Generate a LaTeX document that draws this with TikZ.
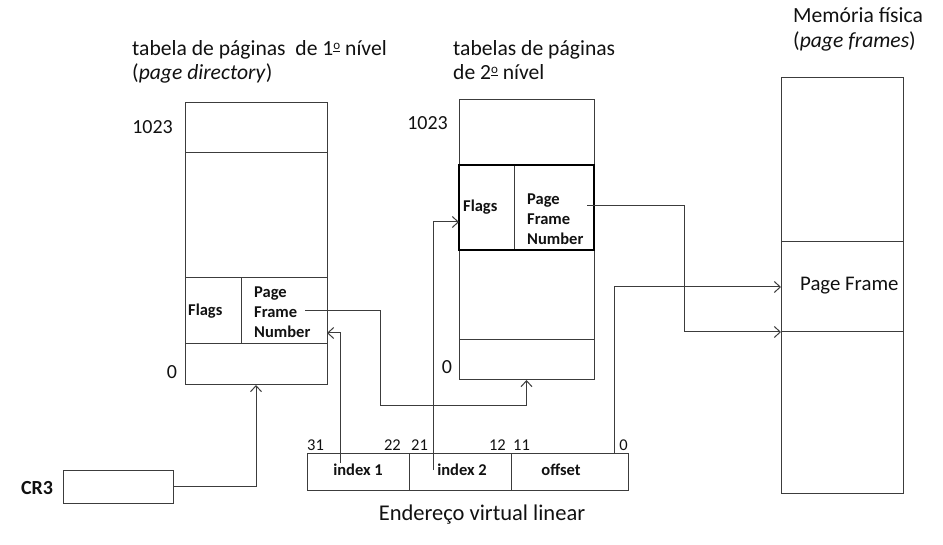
\documentclass[tikz,border=0pt]{standalone}
\usepackage{fontspec}
\setmainfont{Carlito}
\newcommand\myordm{\raisebox{0.62ex}{\fontsize{13}{13}\selectfont\underline{\smash{o}}}}
\usetikzlibrary{arrows.meta}
\definecolor{linec}{HTML}{3C3C3C}
\definecolor{txt}{HTML}{111111}
\tikzset{
  cell/.style={draw=linec, line width=1pt, inner sep=0pt, outer sep=0pt, anchor=north west},
  arr/.style={draw=linec, line width=1pt, -{Straight Barb[length=6pt,width=11pt]}},
  lbl/.style={font=\fontsize{20}{24}\selectfont, inner sep=0pt, text=txt},
  ttl/.style={font=\fontsize{21.6}{24}\selectfont, inner sep=0pt, text=txt},
  num/.style={font=\fontsize{16.5}{20}\selectfont, inner sep=0pt, text=txt},
  sm/.style={font=\fontsize{16.5}{20}\selectfont\bfseries, inner sep=0pt, align=left, text=txt},
}
\begin{document}
\begin{tikzpicture}[x=1pt,y=-1pt]
\useasboundingbox (0,0) rectangle (943,545);

% ---- table 1 (page directory)
\node[cell, minimum width=142pt, minimum height=50pt]  (t1top)   at (185,103) {};
\node[cell, minimum width=142pt, minimum height=125pt] (t1mid)   at (185,153) {};
\node[cell, minimum width=56pt,  minimum height=66pt]  (t1flags) at (185,278) {};
\node[cell, minimum width=86pt,  minimum height=66pt]  (t1pfn)   at (241,278) {};
\node[cell, minimum width=142pt, minimum height=41pt]  (t1bot)   at (185,344) {};

% ---- table 2
\node[cell, minimum width=135pt, minimum height=65pt] (t2top)   at (459,100) {};
\node[cell, minimum width=55pt,  minimum height=85pt] (t2flags) at (459,165) {};
\node[cell, minimum width=80pt,  minimum height=85pt] (t2pfn)   at (514,165) {};
\node[cell, minimum width=135pt, minimum height=90pt] (t2mid)   at (459,250) {};
\node[cell, minimum width=135pt, minimum height=40pt] (t2bot)   at (459,340) {};
\draw[draw=black, line width=1.6pt] (t2flags.north west) rectangle (t2pfn.south east);

% ---- physical memory
\node[cell, minimum width=122pt, minimum height=164pt] (m1)  at (781,78) {};
\node[cell, minimum width=122pt, minimum height=90pt]  (mpf) at (781,242) {};
\node[cell, minimum width=122pt, minimum height=161pt] (m3)  at (781,332) {};

% ---- CR3
\node[cell, minimum width=110pt, minimum height=33pt] (cr3) at (63,470) {};

% ---- linear address
\node[cell, minimum width=102pt, minimum height=37pt] (a1) at (307,453) {};
\node[cell, minimum width=102pt, minimum height=37pt] (a2) at (409,453) {};
\node[cell, minimum width=117pt, minimum height=37pt] (a3) at (511,453) {};

% ---- texts
\node[ttl, anchor=base west] (ti1a) at (132,56) {tabela de páginas~ de 1\myordm\ nível};
\node[ttl, anchor=base west] (ti1b) at (132,80) {(\textit{page directory})};
\node[ttl, anchor=base west] (ti2a) at (453,56) {tabelas de páginas};
\node[ttl, anchor=base west] (ti2b) at (453,80) {de 2\myordm\ nível};
\node[ttl, anchor=base west] (ti3a) at (793,23) {Memória física};
\node[ttl, anchor=base west] (ti3b) at (793,48) {(\textit{page frames})};

\node[lbl, anchor=east] (n1a) at (173,127) {1023};
\node[lbl] (n1b) at (172,372) {0};
\node[lbl, anchor=east] (n2a) at (448,123) {1023};
\node[lbl] (n2b) at (447,367) {0};

\node[sm, anchor=west] (f1) at (188,311) {Flags};
\node[sm, anchor=west] (p1) at (254,312) {Page\\Frame\\Number};
\node[sm, anchor=west] (f2) at (463,207) {Flags};
\node[sm, anchor=west] (p2) at (527,219) {Page\\Frame\\Number};

\node[lbl, font=\fontsize{20.8}{24}\selectfont, anchor=west] (pf) at (800,286) {Page Frame};

\node[lbl, font=\fontsize{20}{24}\selectfont\bfseries] (cr3l) at (37,488) {CR3};

\node[sm] (ix1) at (358,470) {index 1};
\node[sm] (ix2) at (462,470) {index 2};
\node[sm] (ofs) at (561,470) {offset};

\node[num, anchor=base west] (b31) at (307,450) {31};
\node[num, anchor=base east] (b22) at (401,450) {22};
\node[num, anchor=base west] (b21) at (411,450) {21};
\node[num, anchor=base east] (b12) at (506,450) {12};
\node[num, anchor=base west] (b11) at (513,450) {11};
\node[num, anchor=base east] (b0)  at (628,450) {0};

\node[lbl, font=\fontsize{22.5}{26}\selectfont] (eva) at (482,515) {Endereço virtual linear};

% ---- connectors
\draw[arr] (cr3.east) -| (t1bot.south);

\coordinate (i1) at (340,463);
\draw[arr] (i1) |- ([yshift=-22pt]t1pfn.east);

\coordinate (i2) at (433,470);
\draw[arr] (i2) |- ([yshift=-14.5pt]t2flags.west);

\coordinate (s1) at (305,311);
\coordinate (k1) at (380,406);
\draw[arr] (s1) -| (k1) -| (t2bot.south);

\coordinate (s2) at (587,206);
\coordinate (k2) at (684,332);
\draw[arr] (s2) -| (k2) -- (mpf.south west);

\draw[arr] ([xshift=44.5pt]a3.north) |- (mpf.west);
\end{tikzpicture}
\end{document}
